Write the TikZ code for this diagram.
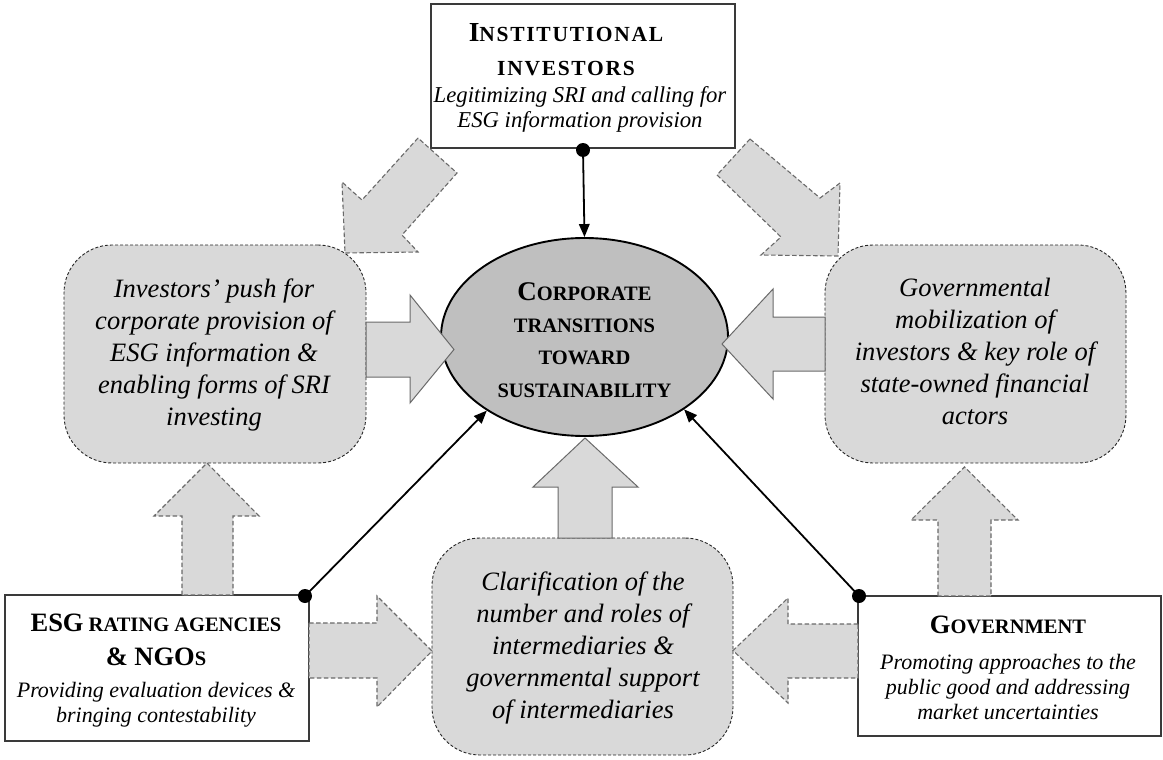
\documentclass[tikz,border=0pt]{standalone}
\usepackage{fontspec}
\setmainfont{Liberation Serif}
\usetikzlibrary{arrows.meta,shapes.geometric}
\definecolor{boxgray}{HTML}{D9D9D9}
\definecolor{ellgray}{HTML}{BFBFBF}
\definecolor{arrline}{HTML}{6A6A6A}
\definecolor{boxline}{HTML}{3A3A3A}
\newcommand\BC[1]{{\fontsize{26.5}{34}\selectfont #1}}
\newcommand\BT[1]{{\fontsize{27.5}{34}\selectfont #1}}
\newcommand\hdfont{\bfseries\fontsize{20.5}{34}\selectfont}
\newcommand\topfont{\bfseries\addfontfeatures{LetterSpace=8}\fontsize{21.5}{34}\selectfont}
\newcommand\ellfont{\bfseries\fontsize{20.5}{32.3}\selectfont}
\newcommand\dsfont{\itshape\fontsize{22}{25}\selectfont}
\newcommand\dstfont{\itshape\fontsize{22.7}{25}\selectfont}
\newcommand\rbfont{\itshape\fontsize{26.5}{32}\selectfont}
\begin{document}
\begin{tikzpicture}[x=1pt,y=-1pt,
  wbox/.style={draw=boxline,line width=1.2pt,fill=white,inner sep=0pt},
  rbox/.style={draw=black!85,fill=boxgray,line width=0.9pt,dash pattern=on 3pt off 2pt,rounded corners=48pt,inner sep=0pt},
  ellnode/.style={ellipse,draw=black,line width=1.9pt,fill=ellgray,inner sep=0pt,minimum width=287pt,minimum height=198pt},
  hd/.style={font=\hdfont,align=center,inner sep=0pt},
  ds/.style={font=\dsfont,align=center,inner sep=0pt},
  rb/.style={font=\rbfont,align=center,inner sep=0pt},
  solidarr/.style={draw=arrline,fill=boxgray,line width=1pt,line join=miter},
  dasharr/.style={draw=arrline,fill=boxgray,line width=1.1pt,dash pattern=on 4.5pt off 2.5pt},
  dotn/.style={circle,fill=black,inner sep=0pt,minimum size=14pt},
  conn/.style={draw=black,line width=1.8pt,-{Triangle[length=13pt,width=10.5pt]}}
]
\fill[white] (0,0) rectangle (1163,760);
\useasboundingbox (0,0) rectangle (1163,760);

% rounded boxes
\node[rbox,minimum width=302pt,minimum height=218pt] (lbox) at (215,354) {};
\node[rbox,minimum width=301pt,minimum height=218pt] (rbx) at (975.5,354) {};
\node[rbox,minimum width=301pt,minimum height=217pt] (mbox) at (582.5,646.5) {};
% white boxes
\node[wbox,minimum width=304pt,minimum height=144pt] (inst) at (583,76) {};
\node[wbox,minimum width=304pt,minimum height=146pt] (esg) at (157,668) {};
\node[wbox,minimum width=303pt,minimum height=140pt] (gov) at (1009.5,666) {};
% ellipse
\node[ellnode] (ell) at (584.5,337) {};

% texts
\node[hd,font=\topfont] (instH) at (566,50) {\BT{I}NSTITUTIONAL\\INVESTORS};
\node[ds,font=\dstfont] (instD) at (580,109.5) {Legitimizing SRI and calling for\\ESG information provision};
\node[hd,font=\ellfont] (ellT) at (584.5,340) {{\fontsize{27}{32.3}\selectfont C}ORPORATE\\TRANSITIONS\\TOWARD\\SUSTAINABILITY};
\node[rb] (lboxT) at (214,355) {Investors’ push for\\corporate provision of\\ESG information \&\\enabling forms of SRI\\investing};
\node[rb] (rbxT) at (975,351) {Governmental\\mobilization of\\investors \& key role of\\state-owned financial\\actors};
\node[rb] (mboxT) at (583,647.5) {Clarification of the\\number and roles of\\intermediaries \&\\governmental support\\of intermediaries};
\node[hd] (esgH) at (156,640) {\BC{ESG} RATING AGENCIES\\\BC{\& NGO}S};
\node[ds] (esgD) at (156,704.5) {Providing evaluation devices \&\\bringing contestability};
\node[hd] (govH) at (1008,625) {\BC{G}OVERNMENT};
\node[ds] (govD) at (1008,687) {Promoting approaches to the\\public good and addressing\\market uncertainties};

% solid block arrows
\filldraw[solidarr] (366,322) -- (410,322) -- (410,295) -- (454,349.5) -- (410,403) -- (410,377) -- (366,377) -- cycle;
\filldraw[solidarr] (825,317) -- (773,317) -- (773,289) -- (722,344) -- (773,399) -- (773,371) -- (825,371) -- cycle;
\filldraw[solidarr] (558,538) -- (558,487) -- (533,487) -- (585,438) -- (638,487) -- (612,487) -- (612,538) -- cycle;
% dashed block arrows
\filldraw[dasharr] (418,138) -- (362,200) -- (342,182) -- (345,253) -- (418,252) -- (402,235) -- (457,173) -- cycle;
\filldraw[dasharr] (750,139) -- (820,198) -- (840,183) -- (838,256) -- (761,255) -- (781,237) -- (717,175) -- cycle;
\filldraw[dasharr] (182,595) -- (182,516) -- (154,516) -- (207,463) -- (259,516) -- (233,516) -- (233,595) -- cycle;
\filldraw[dasharr] (309,623) -- (377,623) -- (377,596) -- (432,651) -- (377,707) -- (377,678) -- (309,678) -- cycle;
\filldraw[dasharr] (858,624) -- (788,624) -- (788,598) -- (733,650.5) -- (788,703) -- (788,678) -- (858,678) -- cycle;
\filldraw[dasharr] (938,596) -- (938,520) -- (911,520) -- (964.5,467) -- (1018,520) -- (991,520) -- (991,596) -- cycle;

% dots and connectors
\node[dotn] (dInst) at (583,150) {};
\node[dotn] (dEsg) at (305,596) {};
\node[dotn] (dGov) at (859,596) {};
\draw[conn] (dInst.center) -- (ell.north);
\draw[conn] (dEsg.center) -- (ell.-143);
\draw[conn] (dGov.center) -- (ell.-36);
\end{tikzpicture}
\end{document}
